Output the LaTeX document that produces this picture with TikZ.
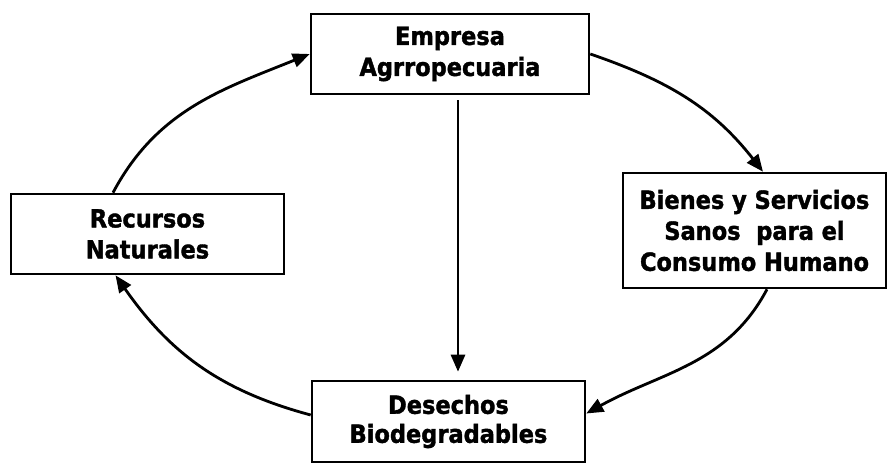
\documentclass[tikz,border=0pt]{standalone}
\usepackage{fontspec}
\newfontfamily\lblfont[FakeBold=1.5]{DejaVu Sans Condensed Bold}
\usetikzlibrary{arrows.meta}
\begin{document}
\begin{tikzpicture}[x=1pt,y=1pt,
  box/.style={draw, line width=2.6pt, rectangle, align=center, inner sep=0pt,
    font=\lblfont\fontsize{25}{31}\selectfont},
  conn/.style={line width=2.8pt, -{Triangle[length=17pt,width=14pt]}}]
\useasboundingbox (0,0) rectangle (887,464);
\node[box, minimum width=278pt, minimum height=80pt] (emp) at (450,410) {Empresa\\Agrropecuaria};
\node[box, minimum width=263pt, minimum height=115pt] (bie) at (754.5,233.5) {Bienes y Servicios\\Sanos~ para el\\Consumo Humano};
\node[box, minimum width=273pt, minimum height=80pt] (rec) at (147.5,230) {Recursos\\Naturales};
\node[box, minimum width=273pt, minimum height=81pt, font=\lblfont\fontsize{25}{29}\selectfont] (des) at (448.5,42.5) {Desechos\\Biodegradables};
\draw[conn] ([xshift=-34.5pt]rec.north) to[out=62,in=202] (emp.west);
\draw[conn] (emp.east) to[out=-19,in=128] ([xshift=8.5pt]bie.north);
\draw[conn] ([xshift=12.5pt]bie.south) to[out=242,in=29] ([yshift=8pt]des.east);
\draw[conn] ([yshift=6.5pt]des.west) to[out=165,in=305] ([xshift=-32pt]rec.south);
\draw[conn, shorten <=5pt, shorten >=8pt] ([xshift=8pt]emp.south) -- ([xshift=9.5pt]des.north);
\end{tikzpicture}
\end{document}
